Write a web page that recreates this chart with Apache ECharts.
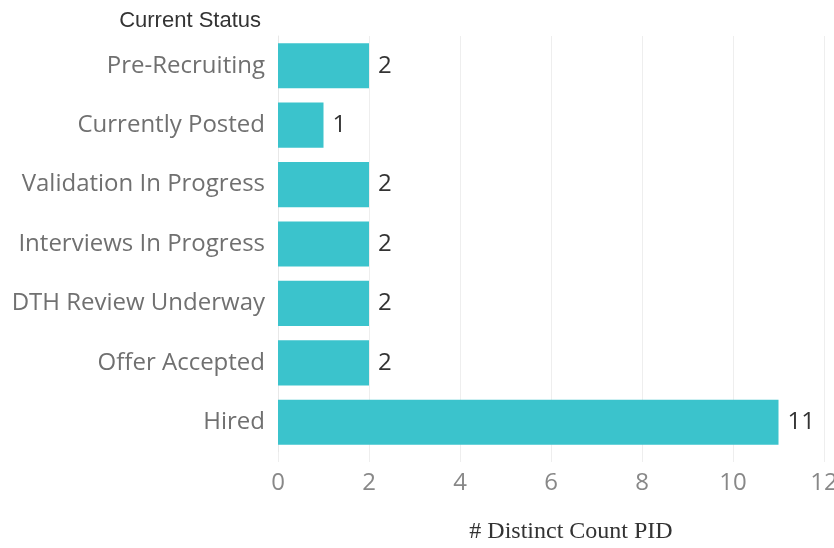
<!DOCTYPE html>
<html>
<head>
<meta charset="utf-8">
<script src="https://cdn.jsdelivr.net/npm/echarts@6/dist/echarts.min.js"></script>
<style>
  html, body { margin: 0; padding: 0; background: #fff; }
  #chart { width: 834px; height: 548px; }
</style>
</head>
<body>
<div id="chart"></div>
<script>
// statuses, top to bottom
var statuses = ['Pre-Recruiting', 'Currently Posted', 'Validation In Progress',
  'Interviews In Progress', 'DTH Review Underway', 'Offer Accepted', 'Hired'];
var counts = [2, 1, 2, 2, 2, 2, 11];

var chart = echarts.init(document.getElementById('chart'));
chart.setOption({
  animation: false,
  title: {
    text: 'Current Status',
    right: 568,
    top: 5,
    textStyle: { fontFamily: 'Liberation Sans', fontSize: 22, fontWeight: 'normal', color: '#333' }
  },
  grid: { left: 278, right: 10, top: 36, bottom: 96, outerBoundsMode: 'none' },
  xAxis: {
    type: 'value',
    min: 0,
    max: 12,
    interval: 2,
    name: '# Distinct Count PID',
    nameLocation: 'middle',
    nameGap: 68,
    nameTextStyle: { fontFamily: 'Liberation Serif', fontSize: 24, color: '#333', padding: [0, 0, 0, 40] },
    axisLine: { show: false },
    axisTick: { show: true, length: 10, lineStyle: { color: '#eeeeee' } },
    axisLabel: { fontFamily: 'Open Sans', fontSize: 24, color: '#888', margin: 19 },
    splitLine: { show: true, lineStyle: { color: '#eeeeee' } }
  },
  yAxis: {
    type: 'category',
    data: statuses,
    inverse: true,
    axisLine: { show: true, lineStyle: { color: '#e8e8e8' } },
    axisTick: { show: false },
    axisLabel: { fontFamily: 'Open Sans', fontSize: 24, color: '#707070', margin: 13 }
  },
  series: [{
    type: 'bar',
    data: counts,
    barCategoryGap: '24%',
    itemStyle: { color: '#3bc3cc' },
    label: {
      show: true,
      position: 'right',
      distance: 9,
      fontFamily: 'Open Sans',
      fontSize: 24,
      color: '#333'
    }
  }]
});
</script>
</body>
</html>
